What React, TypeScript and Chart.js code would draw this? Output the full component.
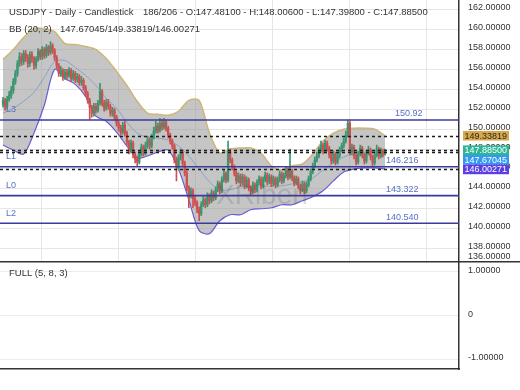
import React, { useEffect, useRef } from "react";
import { Chart, registerables } from "chart.js";
Chart.register(...registerables);

const FONT_FAMILY = '"Liberation Sans", Arial, sans-serif';
const FONT = `9.5px ${FONT_FAMILY}`;
const SMALL_FONT = `9px ${FONT_FAMILY}`;

// ---------- candle data ----------
const opens = [
  152.5, 152.9, 152.3, 153.0, 153.4, 153.9, 154.8, 155.6, 156.6, 157.3,
  156.8, 157.6, 157.2, 156.6, 157.5, 157.1, 156.4, 157.0, 157.8, 157.3,
  158.0, 157.4, 158.2, 157.7, 158.4, 157.9, 157.2, 156.4, 155.6, 155.9,
  155.2, 155.7, 155.4, 155.9, 155.1, 155.6, 155.0, 155.3, 154.7, 154.9,
  154.2, 153.6, 152.9, 152.2, 151.6, 152.3, 151.9, 152.6, 153.8, 152.6,
  152.1, 152.7, 152.3, 151.6, 151.9, 151.2, 150.6, 150.1, 149.7, 150.4,
  149.6, 148.7, 147.9, 148.6, 147.4, 147.0, 146.7, 147.5, 148.2, 147.6,
  148.4, 148.9, 148.3, 149.2, 149.8, 150.3, 149.9, 150.6, 150.2, 150.7,
  150.1, 149.4, 148.8, 148.3, 146.9, 146.2, 147.1, 147.7, 146.6, 145.6,
  144.1, 143.4, 143.8, 143.0, 142.6, 141.9, 141.5, 142.4, 142.9, 142.4,
  143.3, 142.8, 143.6, 143.1, 143.9, 144.5, 143.8, 144.9, 145.5, 144.9,
  147.8, 146.9, 146.2, 145.6, 144.8, 145.3, 144.6, 145.2, 144.3, 144.9,
  144.1, 143.7, 144.4, 143.9, 144.6, 145.0, 144.3, 144.9, 145.4, 144.7,
  145.2, 144.5, 145.0, 144.4, 144.9, 145.5, 144.8, 145.3, 145.9, 145.2,
  145.8, 145.1, 144.6, 145.0, 144.3, 143.9, 144.5, 143.8, 144.4, 145.0,
  145.7, 146.3, 146.9, 147.3, 147.9, 148.4, 147.8, 148.6, 148.1, 147.4,
  146.8, 147.5, 146.7, 147.3, 147.9, 148.3, 148.8, 149.4, 150.6, 147.7,
  148.2, 147.3, 146.7, 147.5, 148.1, 147.4, 146.8, 147.6, 147.9, 147.2,
  146.6, 147.4, 148.0, 147.3, 147.8, 147.481,
];
const highs = [
  153.2, 153.1, 153.3, 153.8, 154.3, 155.1, 155.9, 156.9, 157.7, 157.6,
  157.9, 157.9, 157.5, 157.8, 157.8, 157.3, 157.3, 158.1, 158.0, 158.3,
  158.2, 158.5, 158.4, 158.8, 158.6, 158.1, 157.4, 156.6, 156.3, 156.1,
  156.0, 156.0, 156.2, 156.1, 155.9, 155.8, 155.6, 155.5, 155.3, 155.1,
  154.4, 153.8, 153.1, 152.4, 152.6, 152.6, 152.9, 154.6, 154.0, 152.9,
  153.0, 153.0, 152.5, 152.2, 152.1, 151.4, 150.8, 150.4, 150.7, 150.8,
  149.8, 148.9, 148.9, 148.8, 147.7, 147.3, 147.8, 148.5, 148.4, 148.7,
  149.3, 149.1, 149.5, 150.2, 150.8, 150.6, 151.1, 151.0, 151.1, 150.9,
  150.3, 149.6, 149.0, 148.5, 147.2, 147.4, 148.0, 147.9, 146.8, 145.8,
  144.3, 144.1, 144.0, 143.3, 142.8, 142.2, 142.7, 143.3, 143.1, 143.6,
  143.5, 143.9, 143.8, 144.2, 144.8, 144.7, 145.2, 145.9, 145.7, 148.8,
  148.0, 147.1, 146.4, 145.8, 145.6, 145.5, 145.5, 145.4, 145.2, 145.1,
  144.3, 144.7, 144.6, 144.9, 145.3, 145.2, 145.2, 145.7, 145.6, 145.5,
  145.4, 145.3, 145.2, 145.2, 145.8, 145.7, 145.6, 146.2, 146.1, 148.0,
  146.0, 145.3, 145.3, 145.2, 144.5, 144.8, 144.7, 144.7, 145.3, 146.0,
  146.6, 147.2, 147.7, 148.2, 148.8, 148.6, 148.9, 148.8, 148.3, 147.6,
  147.8, 147.7, 147.6, 148.2, 148.6, 149.1, 149.8, 150.9, 150.8, 148.5,
  148.4, 147.5, 147.8, 148.4, 148.3, 147.6, 147.9, 148.3, 148.1, 147.4,
  147.7, 148.4, 148.2, 148.1, 148.0, 148.006,
];
const lows = [
  152.2, 151.9, 152.0, 152.8, 153.1, 153.6, 154.5, 155.3, 156.3, 156.4,
  156.5, 156.8, 156.2, 156.3, 156.7, 156.0, 156.1, 156.8, 157.0, 157.0,
  157.1, 157.2, 157.4, 157.5, 157.6, 156.9, 156.1, 155.3, 155.3, 154.9,
  155.0, 155.1, 155.2, 154.8, 154.9, 154.7, 154.7, 154.4, 154.4, 153.9,
  153.3, 152.6, 151.0, 151.2, 151.3, 151.6, 151.7, 152.4, 152.3, 151.8,
  151.9, 152.0, 151.3, 151.3, 150.9, 150.3, 149.8, 149.4, 149.5, 149.3,
  148.4, 147.5, 147.6, 147.1, 146.6, 146.3, 146.5, 147.3, 147.3, 147.4,
  148.1, 148.0, 148.1, 149.0, 149.6, 149.6, 149.7, 149.9, 150.0, 149.8,
  149.1, 148.5, 148.0, 146.6, 144.8, 145.9, 146.9, 146.3, 145.3, 143.8,
  142.1, 143.1, 142.1, 142.3, 141.6, 140.8, 141.3, 142.2, 142.1, 142.2,
  142.5, 142.6, 142.8, 142.9, 143.7, 143.5, 143.6, 144.7, 144.6, 144.7,
  146.6, 145.9, 145.3, 144.5, 144.6, 144.3, 144.4, 144.0, 144.1, 143.8,
  143.4, 143.5, 143.6, 143.7, 144.4, 144.0, 144.1, 144.7, 144.4, 144.5,
  144.2, 144.3, 144.1, 144.2, 144.7, 144.5, 144.6, 145.1, 144.9, 145.0,
  144.8, 144.3, 144.4, 144.0, 143.5, 143.7, 143.5, 143.6, 144.2, 144.8,
  145.5, 146.1, 146.7, 147.1, 147.7, 147.5, 147.6, 147.8, 147.1, 146.5,
  146.6, 146.4, 146.5, 147.1, 147.7, 148.1, 148.6, 149.2, 147.4, 147.4,
  147.0, 146.4, 146.5, 147.3, 147.1, 146.5, 146.6, 147.4, 146.9, 146.3,
  146.4, 147.2, 147.0, 147.1, 147.2, 147.398,
];
const closes = [
  152.9, 152.3, 153.0, 153.4, 153.9, 154.8, 155.6, 156.6, 157.3, 156.8,
  157.6, 157.2, 156.6, 157.5, 157.1, 156.4, 157.0, 157.8, 157.3, 158.0,
  157.4, 158.2, 157.7, 158.4, 157.9, 157.2, 156.4, 155.6, 155.9, 155.2,
  155.7, 155.4, 155.9, 155.1, 155.6, 155.0, 155.3, 154.7, 154.9, 154.2,
  153.6, 152.9, 152.2, 151.6, 152.3, 151.9, 152.6, 153.8, 152.6, 152.1,
  152.7, 152.3, 151.6, 151.9, 151.2, 150.6, 150.1, 149.7, 150.4, 149.6,
  148.7, 147.9, 148.6, 147.4, 147.0, 146.7, 147.5, 148.2, 147.6, 148.4,
  148.9, 148.3, 149.2, 149.8, 150.3, 149.9, 150.6, 150.2, 150.7, 150.1,
  149.4, 148.8, 148.3, 146.9, 146.2, 147.1, 147.7, 146.6, 145.6, 144.1,
  143.4, 143.8, 143.0, 142.6, 141.9, 141.5, 142.4, 142.9, 142.4, 143.3,
  142.8, 143.6, 143.1, 143.9, 144.5, 143.8, 144.9, 145.5, 144.9, 147.8,
  146.9, 146.2, 145.6, 144.8, 145.3, 144.6, 145.2, 144.3, 144.9, 144.1,
  143.7, 144.4, 143.9, 144.6, 145.0, 144.3, 144.9, 145.4, 144.7, 145.2,
  144.5, 145.0, 144.4, 144.9, 145.5, 144.8, 145.3, 145.9, 145.2, 145.8,
  145.1, 144.6, 145.0, 144.3, 143.9, 144.5, 143.8, 144.4, 145.0, 145.7,
  146.3, 146.9, 147.3, 147.9, 148.4, 147.8, 148.6, 148.1, 147.4, 146.8,
  147.5, 146.7, 147.3, 147.9, 148.3, 148.8, 149.4, 150.6, 147.7, 148.2,
  147.3, 146.7, 147.5, 148.1, 147.4, 146.8, 147.6, 147.9, 147.2, 146.6,
  147.4, 148.0, 147.3, 147.8, 147.48, 147.885,
];

// ---------- Bollinger band samples (every 5 bars) ----------
const bbIndex = [
  0, 5, 10, 15, 20, 25, 30, 35, 40, 45, 50, 55, 60, 65, 70, 75, 80, 85, 90,
  95, 100, 105, 110, 115, 120, 125, 130, 135, 140, 145, 150, 155, 160, 165,
  170, 175, 180, 185,
];
const bbUpper = [
  157.0, 158.0, 159.2, 160.1, 160.1, 159.8, 158.6, 158.5, 158.3, 158.0,
  157.1, 155.8, 154.4, 152.8, 151.6, 151.5, 151.4, 151.8, 152.9, 152.9,
  149.6, 147.6, 148.0, 148.1, 148.1, 147.6, 146.3, 145.9, 146.3, 146.5,
  147.5, 148.8, 149.6, 150.0, 150.1, 150.1, 150.0, 149.33819,
];
const bbMiddle = [
  151.6, 152.1, 152.8, 153.7, 155.2, 156.8, 156.9, 156.2, 155.4, 154.4,
  153.1, 152.1, 150.7, 149.6, 149.2, 149.1, 148.9, 148.3, 147.3, 146.0,
  144.7, 143.9, 143.9, 144.2, 144.2, 144.2, 144.3, 144.3, 144.5, 144.7,
  145.1, 145.9, 146.6, 147.2, 147.5, 147.7, 147.8, 147.67045,
];
const bbLower = [
  148.4, 147.9, 147.5, 149.6, 152.4, 156.0, 155.1, 154.5, 153.3, 151.3,
  150.8, 149.7, 148.3, 147.1, 147.3, 147.7, 147.9, 146.0, 142.9, 139.8,
  139.5, 140.8, 141.4, 141.4, 141.9, 142.0, 142.1, 142.4, 142.4, 142.8,
  143.2, 143.8, 144.8, 145.7, 146.0, 146.1, 146.1, 146.00271,
];

// ---------- levels / markers / texts ----------
const levelValues = [150.92, 146.216, 143.322, 140.54];
const levelNames = ["L3", "L1", "L0", "L2"];
const levelTexts = ["150.92", "146.216", "143.322", "140.540"];
const markerValues = [149.33819, 147.885, 147.67045, 146.00271];
const markerTexts = ["149.33819", "147.88500", "147.67045", "146.00271"];
const markerColors = ["#d8a84c", "#2db696", "#3399ee", "#5b3fe4"];
const markerTextColors = ["#2a2a2a", "#ffffff", "#ffffff", "#ffffff"];
const headerTitle = "USDJPY - Daily - Candlestick";
const headerOHLC = "186/206 - O:147.48100 - H:148.00600 - L:147.39800 - C:147.88500";
const bbTitle = "BB (20, 2)";
const bbValues = "147.67045/149.33819/146.00271";
const oscTitle = "FULL (5, 8, 3)";
const bottomTickLabel = "136.00000";
const watermark = "XRiben";
const gridX = [37.3, 74.6, 111.9, 149.2, 186.5];
const xMin = -1.453;
const xMax = 220.84;
const yMin = 136.75;
const yMax = 162.98;
const oscMin = -1.229;
const oscMax = 1.245;

const UP = "#3a9670";
const DOWN = "#cf5050";

const zeroPad = (s: any) => {
  s.paddingTop = 0;
  s.paddingBottom = 0;
  s.paddingLeft = 0;
  s.paddingRight = 0;
};

const mainOverlay = {
  id: "mainOverlay",
  afterDatasetsDraw(chart: any) {
    const { ctx, chartArea: a, scales } = chart;
    const y = scales.y;
    ctx.save();
    // watermark
    ctx.font = `28px ${FONT_FAMILY}`;
    ctx.fillStyle = "rgba(80,80,80,0.2)";
    ctx.textAlign = "left";
    ctx.textBaseline = "alphabetic";
    ctx.fillText(watermark, 216, 204);
    // dashed marker lines
    ctx.setLineDash([3, 3]);
    ctx.lineWidth = 1.3;
    ctx.strokeStyle = "#1c1c1c";
    markerValues.forEach((v) => {
      const py = Math.round(y.getPixelForValue(v)) + 0.5;
      ctx.beginPath();
      ctx.moveTo(a.left, py);
      ctx.lineTo(a.right, py);
      ctx.stroke();
    });
    ctx.setLineDash([]);
    // solid level lines
    ctx.strokeStyle = "#3b3b9c";
    ctx.lineWidth = 1.6;
    levelValues.forEach((v) => {
      const py = y.getPixelForValue(v);
      ctx.beginPath();
      ctx.moveTo(a.left, py);
      ctx.lineTo(a.right, py);
      ctx.stroke();
    });
    // level labels
    ctx.font = SMALL_FONT;
    ctx.fillStyle = "#5a70c4";
    ctx.textBaseline = "middle";
    levelValues.forEach((v, i) => {
      const py = y.getPixelForValue(v);
      ctx.fillText(levelNames[i], 6, py - 10);
      ctx.fillText(levelTexts[i], i === 0 ? 395 : 386, py - 6);
    });
    ctx.restore();
  },
  afterDraw(chart: any) {
    const { ctx, scales } = chart;
    const y = scales.y;
    ctx.save();
    ctx.font = FONT;
    ctx.textAlign = "left";
    ctx.textBaseline = "middle";
    ctx.fillStyle = "#333";
    ctx.fillText(headerTitle, 9, 12.7);
    ctx.fillText(headerOHLC, 143, 12.7);
    ctx.fillText(bbTitle, 9, 29.3);
    ctx.fillText(bbValues, 60, 29.3);
    ctx.font = SMALL_FONT;
    ctx.fillText(bottomTickLabel, 468, 257);
    // price boxes on axis
    const h = 9.6;
    let prevBottom = -Infinity;
    markerValues.forEach((v, i) => {
      let cy = y.getPixelForValue(v);
      if (cy - h / 2 < prevBottom) cy = prevBottom + h / 2;
      prevBottom = cy + h / 2;
      ctx.fillStyle = markerColors[i];
      ctx.fillRect(463, cy - h / 2, 46, h);
      ctx.fillStyle = markerTextColors[i];
      ctx.fillText(markerTexts[i], 464.5, cy + 0.5);
    });
    ctx.restore();
  },
};

const subOverlay = {
  id: "subOverlay",
  afterDraw(chart: any) {
    const { ctx } = chart;
    ctx.save();
    ctx.font = FONT;
    ctx.fillStyle = "#333";
    ctx.textAlign = "left";
    ctx.textBaseline = "middle";
    ctx.fillText(oscTitle, 9, 12);
    ctx.strokeStyle = "#333";
    ctx.lineWidth = 1.5;
    ctx.beginPath();
    ctx.moveTo(0, 0.75);
    ctx.lineTo(520, 0.75);
    ctx.stroke();
    ctx.restore();
  },
};

export default function App() {
  const mainRef = useRef<HTMLCanvasElement>(null);
  const subRef = useRef<HTMLCanvasElement>(null);

  useEffect(() => {
    const candleColors = closes.map((c, i) => (c >= opens[i] ? UP : DOWN));
    const bodies = opens.map((o, i) => ({ x: i, y: [o, closes[i]] }));
    const wicks = lows.map((l, i) => ({ x: i, y: [l, highs[i]] }));
    const band = (vals: number[]) => vals.map((v, i) => ({ x: bbIndex[i], y: v }));

    const main = new Chart(mainRef.current!, {
      type: "bar",
      data: {
        datasets: [
          {
            type: "bar",
            data: bodies as any,
            backgroundColor: candleColors,
            barThickness: 1.6,
            minBarLength: 1,
            grouped: false,
            order: 1,
          } as any,
          {
            type: "bar",
            data: wicks as any,
            backgroundColor: candleColors,
            barThickness: 1,
            grouped: false,
            order: 2,
          } as any,
          {
            type: "line",
            data: band(bbLower) as any,
            borderColor: "#6a5cd6",
            borderWidth: 1.2,
            pointRadius: 0,
            tension: 0.3,
            fill: false,
            order: 11,
          },
          {
            type: "line",
            data: band(bbUpper) as any,
            borderColor: "#cdb677",
            borderWidth: 1.5,
            pointRadius: 0,
            tension: 0.3,
            fill: "-1",
            backgroundColor: "rgba(140,140,140,0.5)",
            order: 12,
          },
          {
            type: "line",
            data: band(bbMiddle) as any,
            borderColor: "#86a2c4",
            borderWidth: 1,
            pointRadius: 0,
            tension: 0.3,
            fill: false,
            order: 10,
          },
        ],
      },
      options: {
        animation: false,
        responsive: false,
        maintainAspectRatio: false,
        layout: { padding: 0 },
        plugins: { legend: { display: false }, tooltip: { enabled: false } },
        scales: {
          x: {
            type: "linear",
            min: xMin,
            max: xMax,
            offset: false,
            afterBuildTicks: (s: any) => {
              s.ticks = gridX.map((v) => ({ value: v }));
            },
            afterFit: (s: any) => {
              s.height = 0;
              zeroPad(s);
            },
            ticks: { display: false },
            grid: { color: "#e6e6e6", drawTicks: false },
            border: { display: false },
          },
          y: {
            position: "right",
            min: yMin,
            max: yMax,
            afterFit: (s: any) => {
              s.width = 61;
              zeroPad(s);
            },
            ticks: {
              stepSize: 2,
              includeBounds: false,
              padding: 9,
              labelOffset: -2,
              color: "#333",
              font: { size: 9, family: FONT_FAMILY },
              callback: (v: any) => Number(v).toFixed(5),
            },
            grid: { color: "#e6e6e6", drawTicks: false },
            border: { display: true, color: "#333", width: 1.5 },
          },
        },
      } as any,
      plugins: [mainOverlay],
    });

    const sub = new Chart(subRef.current!, {
      type: "line",
      data: { datasets: [] },
      options: {
        animation: false,
        responsive: false,
        maintainAspectRatio: false,
        layout: { padding: { top: 0, left: 0, right: 0, bottom: 21 } },
        plugins: { legend: { display: false }, tooltip: { enabled: false } },
        scales: {
          x: {
            type: "linear",
            min: 0,
            max: 1,
            afterFit: (s: any) => {
              s.height = 0;
              zeroPad(s);
            },
            ticks: { display: false },
            grid: { display: false, drawTicks: false },
            border: { display: true, color: "#333", width: 1.5 },
          },
          y: {
            position: "right",
            min: oscMin,
            max: oscMax,
            afterFit: (s: any) => {
              s.width = 61;
              zeroPad(s);
            },
            ticks: {
              stepSize: 1,
              includeBounds: false,
              padding: 9,
              labelOffset: -1,
              color: "#333",
              font: { size: 9, family: FONT_FAMILY },
              callback: (v: any) => (Number(v) === 0 ? "0" : Number(v).toFixed(5)),
            },
            grid: { color: "#ececec", drawTicks: false },
            border: { display: true, color: "#333", width: 1.5 },
          },
        },
      } as any,
      plugins: [subOverlay],
    });

    return () => {
      main.destroy();
      sub.destroy();
    };
  }, []);

  return (
    <div
      style={{
        position: "absolute",
        left: 0,
        top: 0,
        width: 520,
        height: 390,
        background: "#fff",
        overflow: "hidden",
      }}
    >
      <canvas
        ref={mainRef}
        width={520}
        height={261}
        style={{ position: "absolute", left: 0, top: 0, width: 520, height: 261 }}
      />
      <canvas
        ref={subRef}
        width={520}
        height={129}
        style={{ position: "absolute", left: 0, top: 261, width: 520, height: 129 }}
      />
    </div>
  );
}
